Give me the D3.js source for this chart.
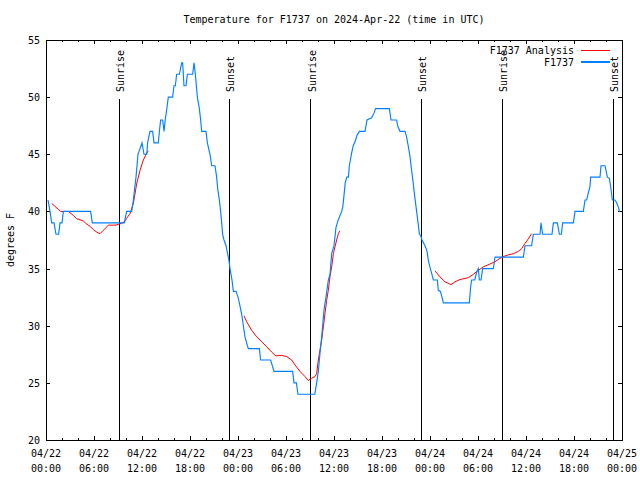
<!DOCTYPE html>
<html>
<head>
<meta charset="utf-8">
<script src="https://cdn.jsdelivr.net/npm/d3@7"></script>
<style>
  html, body { margin: 0; padding: 0; background: #fff; }
  svg { display: block; }
  text { font-family: "DejaVu Sans Mono", "Liberation Mono", monospace; font-size: 10px; fill: #000; }
</style>
</head>
<body>
<svg id="chart" width="640" height="480"></svg>
<script>
// ---- Data (hours since 2024-04-22 00:00 UTC, temperature in degrees F) ----
const titleText = "Temperature for F1737 on 2024-Apr-22 (time in UTC)";
const yLabel = "degrees F";
const seriesNames = ["F1737 Analysis", "F1737"];

const xMajorTicks = [0, 6, 12, 18, 24, 30, 36, 42, 48, 54, 60, 66, 72];
const xTickDates = ["04/22","04/22","04/22","04/22","04/23","04/23","04/23","04/23","04/24","04/24","04/24","04/24","04/25"];
const xTickTimes = ["00:00","06:00","12:00","18:00","00:00","06:00","12:00","18:00","00:00","06:00","12:00","18:00","00:00"];
const yTicks = [20, 25, 30, 35, 40, 45, 50, 55];

const sunEvents = [
  [9.17, "Sunrise"], [22.9, "Sunset"],
  [33.12, "Sunrise"], [46.91, "Sunset"],
  [57.04, "Sunrise"], [70.91, "Sunset"]
];

const observed = [
  [0.25,41],[0.5,40],[0.71,39],[1.0,39],[1.25,38],[1.58,38],[1.75,39],[2.0,39],[2.17,40],
  [5.58,40],[5.79,39],[9.79,39],[10.08,40],[10.71,40],[10.92,41],[11.0,41.5],[11.25,43],
  [11.5,45],[11.75,45.5],[12.0,46],[12.25,45],[12.6,45],[12.7,46],[13.0,47],[13.33,47],
  [13.5,46],[14.04,46],[14.17,47],[14.33,48],[14.58,48],[14.75,47],[14.9,48],[15.1,49],
  [15.29,50],[15.83,50],[16.0,51],[16.17,51],[16.33,52],[16.67,52],[16.96,53],[17.08,53],
  [17.25,51],[17.5,51],[17.67,52],[18.33,52],[18.5,53],[18.67,52],[18.92,50],[19.17,49],
  [19.33,48],[19.46,47],[20.0,47],[20.17,46],[20.5,45],[20.71,44],[21.125,44],[21.33,43],
  [21.46,42],[21.67,41],[21.83,40],[21.96,39],[22.08,38],[22.25,37.5],[22.5,37],[22.875,35.7],
  [23.0,35],[23.25,34],[23.42,33],[23.75,33],[24.0,32.5],[24.17,32],[24.46,31],[24.67,30],
  [24.875,29],[25.29,28],[26.67,28],[26.83,27],[28.08,27],[28.5,26],[30.83,26],[31.0,25],
  [31.3,25],[31.5,24],[33.6,24],[33.83,25],[34.04,26],[34.25,27.6],[34.46,29],[34.75,31.4],
  [35.0,32.5],[35.29,34],[35.5,34.5],[35.71,36.3],[36.0,37],[36.25,38.6],[36.5,39.2],
  [36.96,40],[37.1,40.4],[37.25,41.4],[37.4,42.5],[37.6,43],[37.8,43],[37.92,44],[38.2,45.1],
  [38.42,45.8],[38.625,46.1],[38.9,46.7],[39.17,47],[39.875,47],[40.125,48],[40.7,48.2],
  [41.0,48.6],[41.2,49],[42.92,49],[43.125,48],[43.83,48],[43.96,47.5],[44.25,47],[44.875,47],
  [45.08,46.5],[45.29,45.7],[45.5,44.8],[45.7,43.6],[45.9,42.5],[46.04,41.6],[46.2,40.7],
  [46.42,39.5],[46.67,38.05],[46.875,37.8],[47.0,37.5],[47.375,37],[47.6,36.6],[47.8,35.7],
  [48.0,35.1],[48.2,34.6],[48.42,34],[48.92,34],[49.04,33.1],[49.3,33],[49.5,32.5],[49.67,32],
  [52.92,32],[53.08,33.4],[53.2,34],[53.6,34],[53.83,34.7],[54.04,35],[54.17,34],[54.38,34],
  [54.58,35],[55.92,35],[56.125,36],[59.67,36],[59.875,37],[60.7,37],[60.92,38],[61.75,38],
  [61.875,39],[62.08,38],[63.25,38],[63.42,39],[63.92,39],[64.17,38],[64.42,38],[64.58,39],
  [65.92,39],[66.125,40],[67.17,40],[67.375,41],[67.58,41],[68.0,42.2],[68.08,43],[69.25,43],
  [69.375,44],[69.875,44],[70.0,43.6],[70.17,43],[70.42,42.9],[70.58,42.2],[70.79,41],
  [71.125,41],[71.3,40.8],[71.54,40.4],[71.67,40],[71.75,40]
];

const analysis1 = [
  [0.71,40.7],[1.83,40],[2.79,40],[3.42,39.65],[3.83,39.36],[4.25,39.27],[4.67,39.16],
  [5.08,38.9],[5.5,38.7],[5.92,38.4],[6.33,38.2],[6.75,38.05],[7.25,38.4],[7.79,38.8],
  [8.75,38.8],[9.17,38.9],[9.79,39.07],[10.08,39.4],[10.5,39.8],[10.92,40.7],[11.33,42.4],
  [11.75,43.6],[12.17,44.5],[12.58,45.1],[12.79,45.3]
];
const analysis2 = [
  [24.75,30.87],[25.08,30.35],[25.71,29.6],[26.33,29.04],[26.96,28.6],[27.58,28.17],
  [28.2,27.7],[28.75,27.35],[29.1,27.4],[29.46,27.4],[30.08,27.3],[30.71,27.0],[31.125,26.57],
  [31.75,26.0],[32.375,25.55],[32.79,25.2],[33.2,25.4],[33.625,25.55],[33.83,25.8],[34.04,27.0],
  [34.25,27.9],[34.46,28.75],[34.67,29.9],[34.875,31.08],[35.08,32.2],[35.29,33.1],[35.5,34.3],
  [35.71,35.15],[35.92,36.3],[36.125,36.9],[36.33,37.5],[36.54,38.05],[36.72,38.3]
];
const analysis3 = [
  [48.625,34.8],[49.25,34.27],[49.875,33.84],[50.625,33.6],[51.125,33.84],[51.75,34.04],
  [52.79,34.2],[53.42,34.5],[54.04,34.85],[54.67,35.15],[55.5,35.4],[56.125,35.6],[56.96,36.0],
  [57.79,36.2],[58.42,36.3],[59.04,36.5],[59.46,36.75],[59.875,37.2],[60.29,37.6],[60.7,38.05]
];
const analysisSegments = [analysis1, analysis2, analysis3];

// ---- Drawing ----
const svg = d3.select("#chart");
const L = 46, R = 622, T = 40, B = 440;
const x = d3.scaleLinear().domain([0, 72]).range([L, R]);
const y = d3.scaleLinear().domain([20, 55]).range([B, T]);
const RED = "#ff0000", BLUE = "#0080ff";

// Title
svg.append("text").attr("x", (L + R) / 2).attr("y", 23).attr("text-anchor", "middle").text(titleText);

// Y label
svg.append("text").attr("transform", `translate(14,${(T + B) / 2}) rotate(-90)`)
  .attr("text-anchor", "middle").text(yLabel);

// Minor x ticks (every 2 hours)
const minorX = d3.range(0, 73, 2).filter(h => h % 6 !== 0);
svg.append("g").attr("transform", `translate(0,${B})`)
  .call(d3.axisBottom(x).tickValues(minorX).tickSize(-2).tickFormat(""))
  .call(g => g.select(".domain").remove());
svg.append("g").attr("transform", `translate(0,${T})`)
  .call(d3.axisTop(x).tickValues(minorX).tickSize(-2).tickFormat(""))
  .call(g => g.select(".domain").remove());

// Major x ticks
svg.append("g").attr("transform", `translate(0,${B})`)
  .call(d3.axisBottom(x).tickValues(xMajorTicks).tickSize(-4).tickFormat(""))
  .call(g => g.select(".domain").remove());
svg.append("g").attr("transform", `translate(0,${T})`)
  .call(d3.axisTop(x).tickValues(xMajorTicks).tickSize(-4).tickFormat(""))
  .call(g => g.select(".domain").remove());

// X tick labels (two lines)
const xl = svg.append("g");
xMajorTicks.forEach((h, i) => {
  const t = xl.append("text").attr("text-anchor", "middle");
  t.append("tspan").attr("x", x(h)).attr("y", 457).text(xTickDates[i]);
  t.append("tspan").attr("x", x(h)).attr("y", 472).text(xTickTimes[i]);
});

// Y ticks
svg.append("g").attr("transform", `translate(${L},0)`)
  .call(d3.axisLeft(y).tickValues(yTicks).tickSize(-4).tickFormat(d3.format("d")))
  .call(g => g.select(".domain").remove())
  .call(g => g.selectAll("text").attr("x", -6).attr("dy", "0.35em")
    .style("font-family", "DejaVu Sans Mono, monospace").style("font-size", "10px"));
svg.append("g").attr("transform", `translate(${R},0)`)
  .call(d3.axisRight(y).tickValues(yTicks).tickSize(-4).tickFormat(""))
  .call(g => g.select(".domain").remove());

svg.selectAll(".tick line").attr("stroke", "#000").attr("shape-rendering", "crispEdges");

// Sunrise / sunset lines
const se = svg.append("g");
sunEvents.forEach(([h, label]) => {
  se.append("line").attr("x1", x(h)).attr("x2", x(h)).attr("y1", 99).attr("y2", B)
    .attr("stroke", "#000").attr("stroke-width", 1).attr("shape-rendering", "crispEdges");
  se.append("text").attr("transform", `translate(${x(h) + 5},92) rotate(-90)`)
    .attr("text-anchor", "start").text(label);
});

// Border
svg.append("rect").attr("x", L).attr("y", T).attr("width", R - L).attr("height", B - T)
  .attr("fill", "none").attr("stroke", "#000").attr("shape-rendering", "crispEdges");

// Lines
const line = d3.line().x(d => x(d[0])).y(d => y(d[1]));
analysisSegments.forEach(seg => {
  svg.append("path").datum(seg).attr("d", line).attr("fill", "none")
    .attr("stroke", RED).attr("stroke-width", 1);
});
svg.append("path").datum(observed).attr("d", line).attr("fill", "none")
  .attr("stroke", BLUE).attr("stroke-width", 1.15);

// Legend
const lg = svg.append("g");
[[seriesNames[0], RED, 50], [seriesNames[1], BLUE, 62]].forEach(([name, col, yy]) => {
  lg.append("text").attr("x", 574).attr("y", yy + 4).attr("text-anchor", "end").text(name);
  lg.append("line").attr("x1", 581).attr("x2", 610).attr("y1", yy).attr("y2", yy)
    .attr("stroke", col).attr("stroke-width", col === BLUE ? 1.15 : 1)
    .attr("shape-rendering", "crispEdges");
});
</script>
</body>
</html>
